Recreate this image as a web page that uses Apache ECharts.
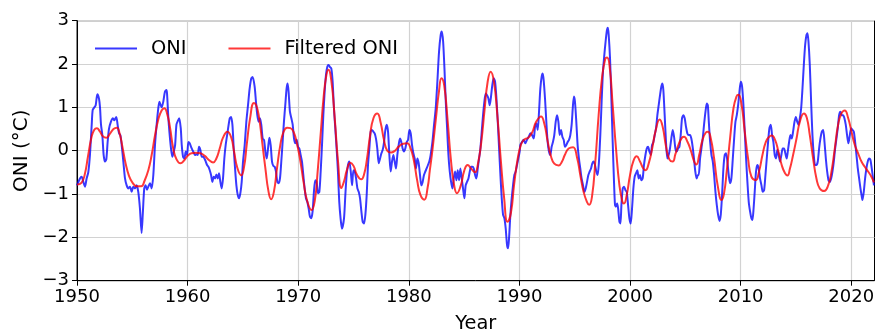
<!DOCTYPE html>
<html>
<head>
<meta charset="utf-8">
<script src="https://cdn.jsdelivr.net/npm/echarts@6/dist/echarts.min.js"></script>
<style>
html,body{margin:0;padding:0;background:#fff;}
#chart{width:877px;height:331px;}
</style>
</head>
<body>
<div id="chart"></div>
<script>
// ONI (3-month running mean), [year, value]
const oniPoints = [
[1950.0,-0.8],[1950.06,-0.8],[1950.27,-0.64],[1950.42,-0.6],[1950.57,-0.72],[1950.72,-0.83],[1950.87,-0.64],
[1951.02,-0.5],[1951.17,-0.1],[1951.33,0.6],[1951.42,0.94],[1951.57,1.0],[1951.69,1.05],[1951.84,1.3],[1951.99,1.2],
[1952.08,1.0],[1952.17,0.6],[1952.29,0.36],[1952.41,-0.1],[1952.53,-0.25],[1952.65,-0.2],[1952.77,0.2],[1952.89,0.5],
[1953.07,0.67],[1953.25,0.75],[1953.37,0.7],[1953.55,0.78],[1953.67,0.6],[1953.80,0.4],[1953.92,0.36],
[1954.04,0.13],[1954.19,-0.25],[1954.34,-0.64],[1954.49,-0.8],[1954.64,-0.87],[1954.79,-0.83],[1954.94,-0.95],
[1955.09,-0.83],[1955.24,-0.87],[1955.39,-0.8],[1955.54,-0.95],[1955.69,-1.33],[1955.84,-1.9],[1955.96,-1.4],
[1956.08,-0.87],[1956.20,-0.8],[1956.33,-0.9],[1956.45,-0.83],[1956.60,-0.75],[1956.75,-0.87],[1956.90,-0.56],
[1957.05,0.13],[1957.20,0.6],[1957.35,0.98],[1957.45,1.13],[1957.65,1.0],[1957.80,1.13],[1957.95,1.36],
[1958.08,1.4],[1958.14,1.32],[1958.26,0.75],[1958.38,0.36],[1958.50,0.05],[1958.62,-0.14],[1958.75,-0.02],[1958.87,0.13],
[1958.99,0.6],[1959.14,0.7],[1959.24,0.75],[1959.38,0.52],[1959.47,0.13],[1959.59,-0.14],[1959.71,-0.18],[1959.83,-0.02],
[1959.95,-0.1],[1960.07,0.2],[1960.19,0.17],[1960.31,0.09],[1960.43,0.02],[1960.55,-0.04],[1960.67,-0.1],[1960.79,-0.08],
[1960.91,-0.1],[1961.03,0.09],[1961.15,0.02],[1961.28,-0.14],[1961.40,-0.14],[1961.52,-0.18],[1961.64,-0.25],[1961.76,-0.33],
[1961.88,-0.37],[1962.00,-0.45],[1962.12,-0.56],[1962.24,-0.72],[1962.36,-0.6],[1962.48,-0.64],[1962.60,-0.55],[1962.72,-0.64],
[1962.84,-0.52],[1962.96,-0.72],[1963.08,-0.87],[1963.20,-0.64],[1963.32,-0.18],[1963.44,0.13],[1963.62,0.44],[1963.81,0.75],
[1963.93,0.78],[1964.05,0.6],[1964.17,0.05],[1964.29,-0.41],[1964.41,-0.8],[1964.53,-1.02],[1964.65,-1.1],[1964.77,-0.98],
[1964.89,-0.72],[1965.01,-0.25],[1965.16,0.13],[1965.31,0.67],[1965.46,1.05],[1965.61,1.44],[1965.76,1.67],
[1965.88,1.7],[1966.06,1.48],[1966.18,1.13],[1966.30,0.82],[1966.42,0.67],[1966.54,0.75],[1966.66,0.6],[1966.79,0.28],
[1966.91,0.25],[1967.03,-0.02],[1967.15,-0.18],[1967.27,0.05],[1967.39,0.3],[1967.51,0.13],[1967.63,-0.25],[1967.75,-0.35],
[1967.87,-0.37],[1967.99,-0.48],[1968.11,-0.72],[1968.23,-0.75],[1968.35,-0.64],[1968.47,-0.25],[1968.59,0.2],[1968.71,0.67],
[1968.83,1.05],[1968.95,1.44],[1969.04,1.55],[1969.13,1.36],[1969.25,0.9],[1969.38,0.75],[1969.50,0.6],[1969.62,0.28],
[1969.74,0.17],[1969.86,0.25],[1969.98,0.09],[1970.10,0.05],[1970.22,-0.1],[1970.34,-0.25],[1970.46,-0.56],[1970.58,-0.87],
[1970.70,-1.1],[1970.82,-1.18],[1970.94,-1.33],[1971.06,-1.52],[1971.18,-1.56],[1971.30,-1.4],[1971.42,-0.95],[1971.54,-0.68],
[1971.66,-0.72],[1971.79,-0.98],[1971.91,-0.95],[1972.03,-0.48],[1972.15,0.13],[1972.27,0.82],[1972.39,1.36],[1972.51,1.75],
[1972.63,1.94],[1972.75,1.98],[1972.87,1.93],[1972.99,1.9],[1973.11,1.6],[1973.23,0.98],[1973.35,0.52],[1973.47,0.05],
[1973.59,-0.48],[1973.71,-1.18],[1973.83,-1.56],[1973.95,-1.8],
[1974.14,-1.56],[1974.26,-1.02],[1974.38,-0.56],[1974.50,-0.33],[1974.62,-0.25],[1974.75,-0.48],[1974.87,-0.8],[1974.99,-0.45],
[1975.11,-0.48],[1975.23,-0.64],[1975.35,-0.87],[1975.47,-0.95],[1975.59,-1.1],[1975.71,-1.4],[1975.83,-1.64],[1975.95,-1.68],
[1976.07,-1.48],[1976.19,-1.02],[1976.31,-0.33],[1976.43,0.05],[1976.55,0.44],[1976.67,0.48],[1976.79,0.44],[1976.91,0.4],
[1977.03,0.28],[1977.15,0.05],[1977.28,-0.29],[1977.40,-0.18],[1977.52,-0.06],[1977.64,0.02],[1977.76,0.2],[1977.88,0.48],
[1978.00,0.6],[1978.12,0.44],[1978.24,-0.1],[1978.36,-0.48],[1978.48,-0.25],[1978.60,-0.1],[1978.72,-0.25],[1978.84,-0.41],
[1978.96,-0.1],[1979.08,0.13],[1979.20,0.28],[1979.32,0.2],[1979.44,0.05],[1979.56,-0.02],[1979.68,0.05],[1979.81,0.2],
[1979.93,0.25],[1980.05,0.48],[1980.17,0.4],[1980.29,0.13],[1980.41,-0.06],[1980.53,-0.18],[1980.65,-0.41],[1980.77,-0.18],
[1980.89,-0.29],[1981.01,-0.56],[1981.13,-0.8],[1981.25,-0.72],[1981.37,-0.56],[1981.49,-0.48],[1981.61,-0.41],[1981.73,-0.33],
[1981.85,-0.25],[1981.97,-0.1],
[1982.13,0.2],[1982.28,0.6],[1982.43,0.98],[1982.58,1.59],[1982.73,2.28],[1982.88,2.67],[1982.98,2.75],[1983.10,2.52],
[1983.22,1.9],[1983.34,1.13],[1983.46,0.52],[1983.58,-0.1],[1983.70,-0.48],[1983.82,-0.72],[1983.94,-0.87],[1984.06,-0.64],
[1984.18,-0.48],[1984.30,-0.68],[1984.42,-0.45],[1984.54,-0.68],[1984.66,-0.41],[1984.78,-0.64],[1984.90,-0.87],[1985.02,-1.1],
[1985.14,-0.8],[1985.26,-0.72],[1985.39,-0.64],[1985.51,-0.48],[1985.63,-0.37],[1985.75,-0.37],[1985.87,-0.41],[1985.99,-0.56],
[1986.11,-0.64],[1986.23,-0.41],[1986.35,-0.18],[1986.47,0.05],[1986.59,0.44],[1986.71,0.82],[1986.83,1.13],[1986.95,1.32],
[1987.07,1.28],[1987.19,1.21],[1987.31,1.05],[1987.43,1.25],[1987.55,1.52],[1987.67,1.67],[1987.80,1.59],[1987.92,1.21],
[1988.04,0.67],[1988.16,0.05],[1988.28,-0.56],[1988.40,-1.1],[1988.52,-1.48],[1988.64,-1.56],[1988.76,-1.8],[1988.88,-2.18],
[1988.97,-2.25],[1989.06,-2.02],[1989.18,-1.48],[1989.30,-1.1],[1989.42,-0.8],[1989.54,-0.56],[1989.66,-0.48],[1989.78,-0.33],
[1989.90,-0.18],[1990.02,-0.02],
[1990.08,0.13],[1990.23,0.2],[1990.38,0.25],[1990.53,0.17],[1990.68,0.25],[1990.84,0.32],[1990.99,0.4],[1991.14,0.36],
[1991.29,0.28],[1991.41,0.55],[1991.53,0.63],[1991.65,0.48],[1991.77,0.9],[1991.89,1.44],[1992.01,1.71],[1992.10,1.78],
[1992.19,1.63],[1992.31,1.21],[1992.43,0.67],[1992.55,0.2],[1992.67,-0.02],[1992.79,-0.1],[1992.91,0.09],[1993.03,0.2],
[1993.15,0.36],[1993.28,0.67],[1993.40,0.82],[1993.52,0.67],[1993.64,0.36],[1993.76,0.48],[1993.88,0.32],[1994.00,0.25],
[1994.12,0.09],[1994.24,0.13],[1994.36,0.2],[1994.48,0.25],[1994.60,0.36],[1994.72,0.6],[1994.84,1.05],[1994.93,1.25],
[1995.02,1.13],[1995.14,0.67],[1995.26,0.13],[1995.38,-0.18],[1995.50,-0.41],[1995.62,-0.64],[1995.75,-0.8],[1995.87,-0.95],
[1995.99,-0.87],[1996.11,-0.72],[1996.23,-0.56],[1996.35,-0.48],[1996.47,-0.41],[1996.59,-0.29],[1996.71,-0.25],[1996.83,-0.33],
[1996.95,-0.48],[1997.07,-0.56],[1997.19,-0.25],[1997.31,0.36],[1997.43,1.13],[1997.55,1.82],[1997.67,2.2],[1997.79,2.52],
[1997.91,2.78],[1998.0,2.84],
[1998.07,2.67],[1998.19,2.13],[1998.31,1.21],[1998.43,0.2],[1998.55,-0.72],[1998.64,-1.25],[1998.73,-1.29],[1998.83,-1.22],
[1998.92,-1.33],[1999.04,-1.64],[1999.13,-1.68],[1999.22,-1.25],[1999.34,-0.87],[1999.46,-0.83],[1999.58,-0.91],[1999.70,-0.95],
[1999.82,-1.25],[1999.94,-1.56],[2000.06,-1.68],[2000.18,-1.33],[2000.30,-0.87],[2000.42,-0.6],[2000.54,-0.52],[2000.66,-0.45],
[2000.78,-0.64],[2000.90,-0.56],[2001.02,-0.68],[2001.14,-0.64],[2001.26,-0.33],[2001.39,-0.1],[2001.51,0.05],[2001.63,0.09],
[2001.75,-0.02],[2001.87,-0.1],[2001.99,0.13],[2002.11,0.2],[2002.23,0.36],[2002.35,0.52],[2002.47,0.82],[2002.59,1.05],
[2002.71,1.28],[2002.83,1.48],[2002.92,1.55],[2003.01,1.4],[2003.13,0.82],[2003.25,0.2],[2003.37,-0.18],[2003.49,-0.1],
[2003.61,0.05],[2003.73,0.28],[2003.86,0.48],[2003.98,0.32],[2004.10,0.05],[2004.22,-0.02],[2004.34,0.05],[2004.46,0.09],
[2004.58,0.36],[2004.70,0.75],[2004.82,0.82],[2004.94,0.75],[2005.06,0.55],[2005.18,0.4],[2005.30,0.36],[2005.42,0.36],
[2005.54,0.28],[2005.66,0.09],[2005.78,-0.18],[2005.90,-0.48],[2006.02,-0.64],[2006.14,-0.56],
[2006.21,-0.56],[2006.33,-0.18],[2006.45,0.05],[2006.57,0.28],[2006.69,0.6],[2006.82,0.9],[2006.94,1.09],[2007.03,1.05],
[2007.12,0.67],[2007.24,0.2],[2007.36,-0.1],[2007.48,-0.25],[2007.60,-0.56],[2007.72,-0.95],[2007.84,-1.25],[2007.96,-1.48],
[2008.08,-1.62],[2008.20,-1.48],[2008.32,-1.02],[2008.44,-0.41],[2008.56,-0.1],[2008.68,-0.06],[2008.80,-0.25],[2008.92,-0.56],
[2009.04,-0.75],[2009.16,-0.64],[2009.29,-0.18],[2009.41,0.28],[2009.53,0.67],[2009.65,0.82],[2009.77,1.05],[2009.89,1.36],
[2010.01,1.59],[2010.13,1.48],[2010.25,1.05],[2010.37,0.44],[2010.49,-0.18],[2010.61,-0.72],[2010.73,-1.18],[2010.85,-1.4],
[2010.97,-1.56],[2011.06,-1.6],[2011.15,-1.4],[2011.27,-0.95],[2011.39,-0.48],[2011.51,-0.33],[2011.63,-0.41],[2011.75,-0.64],
[2011.88,-0.8],[2012.0,-0.95],[2012.12,-0.91],[2012.24,-0.56],[2012.36,-0.18],[2012.48,0.2],[2012.60,0.52],[2012.72,0.6],
[2012.84,0.36],[2012.96,0.2],[2013.08,-0.1],[2013.20,-0.18],[2013.32,0.02],[2013.44,-0.1],[2013.56,-0.25],[2013.68,-0.1],
[2013.80,0.05],[2013.92,0.05],[2014.04,-0.06],[2014.16,-0.18],
[2014.26,-0.02],[2014.38,0.2],[2014.50,0.36],[2014.62,0.28],[2014.74,0.44],[2014.87,0.67],[2014.99,0.78],[2015.11,0.67],
[2015.23,0.6],[2015.35,0.75],[2015.47,0.98],[2015.59,1.44],[2015.71,1.98],[2015.83,2.44],[2015.95,2.67],[2016.04,2.71],
[2016.13,2.52],[2016.25,1.98],[2016.37,1.13],[2016.49,0.36],[2016.61,-0.1],[2016.73,-0.33],[2016.85,-0.33],[2016.97,-0.25],
[2017.09,0.05],[2017.21,0.28],[2017.34,0.44],[2017.46,0.48],[2017.58,0.2],[2017.70,-0.18],[2017.82,-0.48],[2017.94,-0.68],
[2018.06,-0.72],[2018.18,-0.64],[2018.30,-0.48],[2018.42,-0.25],[2018.54,0.05],[2018.66,0.28],[2018.78,0.52],[2018.90,0.82],
[2019.02,0.9],[2019.14,0.82],[2019.26,0.82],[2019.38,0.75],[2019.50,0.6],[2019.62,0.36],[2019.74,0.17],[2019.87,0.36],
[2019.99,0.52],[2020.11,0.48],[2020.23,0.44],[2020.35,0.2],[2020.47,-0.1],[2020.59,-0.41],[2020.71,-0.64],[2020.83,-0.87],
[2020.95,-1.06],[2021.01,-1.14],[2021.13,-0.95],[2021.25,-0.64],[2021.37,-0.41],[2021.49,-0.25],[2021.61,-0.18],[2021.73,-0.21],
[2021.85,-0.41],[2021.97,-0.64],[2022.05,-0.8]
];

// Filtered ONI, [year, value]
const filteredPoints = [
[1950.0,-0.78],[1950.4,-0.74],[1950.7,-0.55],[1951.0,-0.12],[1951.3,0.3],[1951.55,0.48],[1951.8,0.52],[1952.05,0.45],
[1952.35,0.33],[1952.65,0.3],[1952.95,0.38],[1953.3,0.5],[1953.6,0.53],[1953.85,0.4],[1954.1,0.1],[1954.4,-0.3],
[1954.7,-0.58],[1955.0,-0.73],[1955.4,-0.82],[1955.8,-0.82],[1956.1,-0.7],[1956.45,-0.45],[1956.75,-0.1],[1957.05,0.35],
[1957.35,0.72],[1957.65,0.93],[1957.9,0.98],[1958.15,0.85],[1958.4,0.55],[1958.7,0.05],[1959.0,-0.2],[1959.35,-0.29],
[1959.7,-0.22],[1960.0,-0.12],[1960.35,-0.06],[1960.75,-0.05],[1961.15,-0.06],[1961.55,-0.12],[1961.95,-0.22],[1962.3,-0.27],
[1962.6,-0.18],[1962.9,0.05],[1963.2,0.3],[1963.6,0.44],[1963.95,0.3],[1964.2,-0.02],[1964.5,-0.4],[1964.85,-0.57],
[1965.1,-0.38],[1965.35,0.15],[1965.65,0.75],[1966.0,1.1],[1966.2,1.05],[1966.45,0.78],[1966.75,0.18],[1967.05,-0.45],
[1967.3,-0.92],[1967.55,-1.12],[1967.8,-0.95],[1968.08,-0.41],[1968.38,0.13],[1968.68,0.44],[1969.0,0.53],[1969.3,0.52],
[1969.6,0.42],[1969.9,0.15],[1970.2,-0.25],[1970.5,-0.75],[1970.8,-1.15],[1971.2,-1.37],[1971.5,-1.15],[1971.75,-0.5],
[1972.05,0.45],[1972.3,1.25],[1972.55,1.75],[1972.72,1.87],[1973.0,1.6],[1973.3,0.75],[1973.6,-0.25],[1973.9,-0.86],
[1974.15,-0.7],[1974.4,-0.45],[1974.72,-0.28],[1975.0,-0.35],[1975.3,-0.55],[1975.7,-0.66],[1975.95,-0.55],[1976.2,-0.22],
[1976.5,0.36],[1976.8,0.75],[1977.15,0.86],[1977.45,0.65],[1977.75,0.25],[1978.05,0.0],[1978.4,-0.04],[1978.75,0.0],
[1979.1,0.1],[1979.5,0.16],[1979.85,0.17],[1980.15,0.06],[1980.45,-0.22],[1980.75,-0.68],[1981.05,-1.02],[1981.4,-1.13],
[1981.7,-0.85],[1981.9,-0.45],[1982.15,0.05],[1982.43,0.7],[1982.73,1.38],[1982.95,1.67],[1983.2,1.5],[1983.5,0.72],
[1983.8,-0.2],[1984.1,-0.8],[1984.35,-0.98],[1984.7,-0.8],[1985.0,-0.47],[1985.32,-0.33],[1985.65,-0.42],[1985.98,-0.5],
[1986.25,-0.3],[1986.55,0.2],[1986.85,0.95],[1987.12,1.58],[1987.4,1.82],[1987.7,1.58],[1988.0,0.82],[1988.31,-0.2],
[1988.62,-1.1],[1988.92,-1.64],[1989.22,-1.45],[1989.52,-0.78],[1989.82,-0.22],[1990.15,0.15],[1990.45,0.26],[1990.8,0.3],
[1991.15,0.42],[1991.5,0.66],[1991.95,0.79],[1992.25,0.62],[1992.55,0.22],[1992.85,-0.13],[1993.15,-0.3],[1993.55,-0.34],
[1993.85,-0.25],[1994.1,-0.1],[1994.45,0.05],[1994.85,0.08],[1995.2,-0.15],[1995.5,-0.56],[1995.8,-0.95],[1996.1,-1.18],
[1996.3,-1.25],[1996.56,-1.06],[1996.86,-0.25],[1997.16,0.82],[1997.46,1.67],[1997.76,2.12],[1997.92,2.15],[1998.15,1.95],
[1998.43,1.05],[1998.73,0.05],[1999.04,-0.8],[1999.3,-1.17],[1999.45,-1.22],[1999.7,-1.02],[2000.0,-0.56],[2000.3,-0.24],
[2000.6,-0.13],[2000.9,-0.25],[2001.2,-0.41],[2001.4,-0.45],[2001.7,-0.28],[2002.0,0.05],[2002.3,0.45],[2002.68,0.72],
[2002.95,0.55],[2003.25,0.1],[2003.55,-0.2],[2003.85,-0.25],[2004.1,-0.08],[2004.4,0.15],[2004.7,0.3],[2004.88,0.32],
[2005.2,0.2],[2005.5,0.0],[2005.8,-0.25],[2006.0,-0.32],[2006.25,-0.1],[2006.55,0.25],[2006.85,0.42],[2007.05,0.44],
[2007.3,0.28],[2007.6,-0.18],[2007.92,-0.8],[2008.28,-1.14],[2008.5,-0.98],[2008.75,-0.45],[2009.05,0.3],[2009.35,0.98],
[2009.62,1.25],[2009.8,1.29],[2010.07,1.08],[2010.37,0.44],[2010.67,-0.18],[2010.97,-0.6],[2011.36,-0.68],[2011.66,-0.48],
[2011.97,-0.1],[2012.27,0.2],[2012.57,0.32],[2012.81,0.35],[2013.11,0.25],[2013.41,-0.02],[2013.71,-0.33],[2014.01,-0.52],
[2014.24,-0.57],[2014.44,-0.43],[2014.74,-0.1],[2015.05,0.28],[2015.35,0.67],[2015.72,0.86],[2015.98,0.76],[2016.25,0.36],
[2016.55,-0.18],[2016.85,-0.64],[2017.15,-0.87],[2017.55,-0.93],[2017.91,-0.8],[2018.21,-0.48],[2018.51,0.05],[2018.81,0.6],
[2019.11,0.86],[2019.41,0.93],[2019.71,0.76],[2020.02,0.44],[2020.32,0.13],[2020.62,-0.06],[2020.92,-0.25],[2021.22,-0.37],
[2021.52,-0.48],[2021.82,-0.6],[2022.05,-0.73]
];

const xTicks = [1950, 1960, 1970, 1980, 1990, 2000, 2010, 2020];
const yTicks = [-3, -2, -1, 0, 1, 2, 3];
const seriesNames = ['ONI', 'Filtered ONI'];

const FONT = 'DejaVu Sans';
const chart = echarts.init(document.getElementById('chart'), null, {renderer: 'canvas'});
const fmtMinus = v => (v < 0 ? '\u2212' + Math.abs(v) : String(v));

chart.setOption({
  animation: false,
  backgroundColor: '#ffffff',
  grid: {left: 77, right: 2.5, top: 20.7, bottom: 50.3, show: true, borderColor: '#000', borderWidth: 1,
    backgroundColor: 'transparent', containLabel: false, outerBoundsMode: 'none'},
  legend: {
    left: 90, top: 34,
    itemWidth: 42, itemHeight: 20, itemGap: 42,
    icon: 'path://M0,9 L42,9 L42,11 L0,11 Z',
    textStyle: {fontFamily: FONT, fontSize: 19.4, color: '#000', padding: [0, 0, 0, 9]},
    data: seriesNames
  },
  xAxis: {
    type: 'value', min: 1950, max: 2022.1, interval: 10,
    name: 'Year', nameLocation: 'middle', nameGap: 34,
    nameTextStyle: {fontFamily: FONT, fontSize: 19.4, color: '#000'},
    axisLine: {show: true, onZero: false, lineStyle: {color: '#000', width: 1}},
    axisTick: {show: true, inside: false, length: 5, lineStyle: {color: '#000'}, customValues: xTicks},
    axisLabel: {fontFamily: FONT, fontSize: 18, color: '#000', margin: 8, customValues: xTicks,
      formatter: v => (v % 10 === 0 ? String(v) : '')},
    splitLine: {show: true, lineStyle: {color: '#d2d2d2', width: 1.2}}
  },
  yAxis: {
    type: 'value', min: -3, max: 3, interval: 1,
    name: 'ONI (\u00b0C)', nameLocation: 'middle', nameGap: 40, nameRotate: 90,
    nameTextStyle: {fontFamily: FONT, fontSize: 20, color: '#000'},
    axisLine: {show: true, onZero: false, lineStyle: {color: '#000', width: 1}},
    axisTick: {show: true, inside: false, length: 5, lineStyle: {color: '#000'}},
    axisLabel: {fontFamily: FONT, fontSize: 18, color: '#000', margin: 8, formatter: fmtMinus},
    splitLine: {show: true, lineStyle: {color: '#d2d2d2', width: 1.2}}
  },
  series: [
    {
      name: seriesNames[0], type: 'line', data: oniPoints, showSymbol: false, symbol: 'none',
      smooth: 0.25, lineStyle: {color: 'rgba(0,0,255,0.78)', width: 2}, itemStyle: {color: 'rgba(0,0,255,0.78)'}, z: 2
    },
    {
      name: seriesNames[1], type: 'line', data: filteredPoints, showSymbol: false, symbol: 'none',
      smooth: 0.5, lineStyle: {color: 'rgba(255,0,0,0.78)', width: 2}, itemStyle: {color: 'rgba(255,0,0,0.78)'}, z: 3
    }
  ]
});
</script>
</body>
</html>
